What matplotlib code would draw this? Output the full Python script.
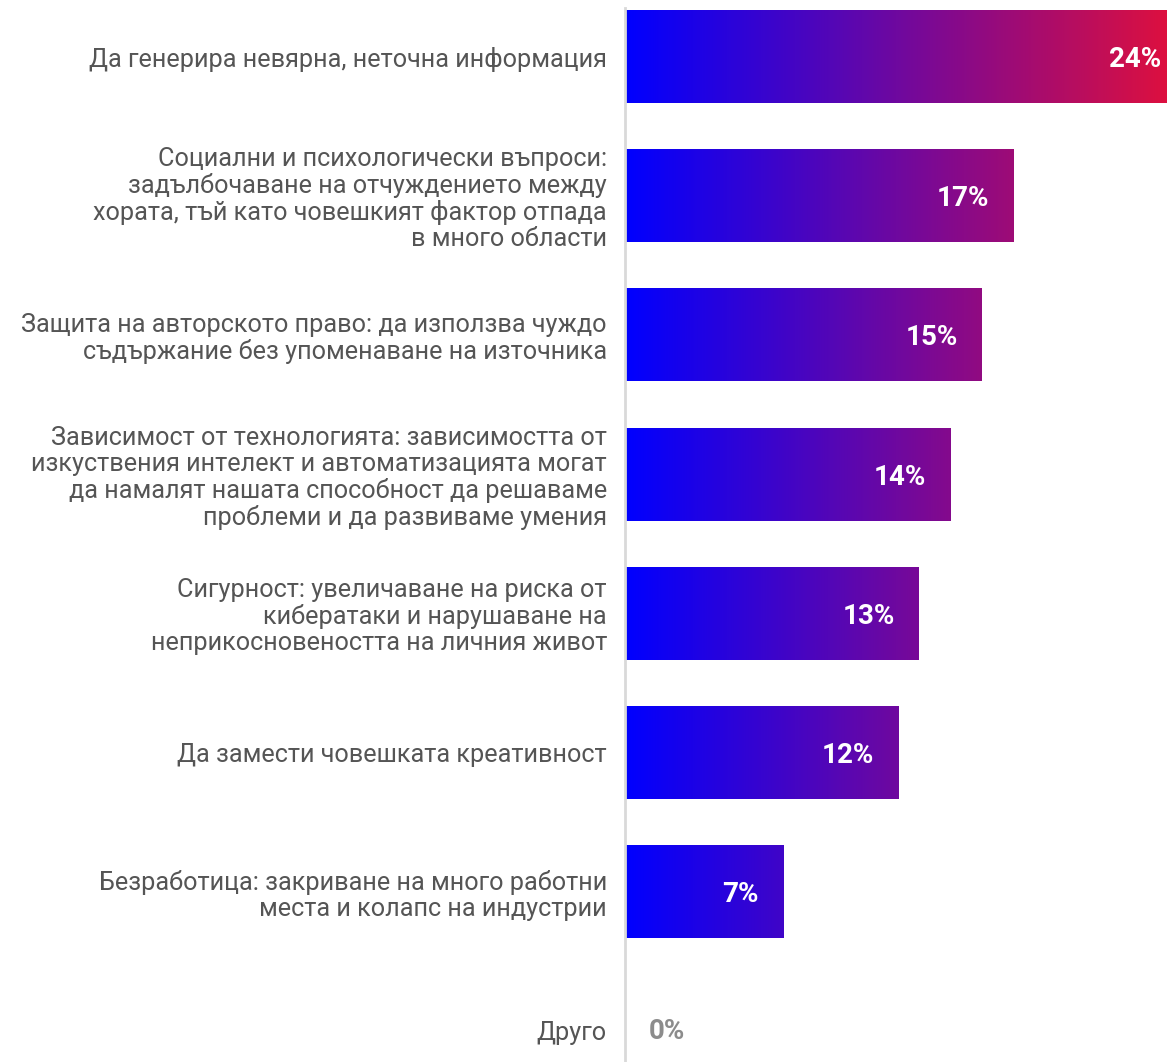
import matplotlib
matplotlib.use("Agg")
import matplotlib.pyplot as plt
import matplotlib.transforms as mtransforms
from matplotlib.colors import LinearSegmentedColormap, Normalize
import numpy as np

plt.rcParams['font.family'] = ['Roboto', 'DejaVu Sans']

categories = [
    "Да генерира невярна, неточна информация",
    "Социални и психологически въпроси:\nзадълбочаване на отчуждението между\nхората, тъй като човешкият фактор отпада\nв много области",
    "Защита на авторското право: да използва чуждо\nсъдържание без упоменаване на източника",
    "Зависимост от технологията: зависимостта от\nизкуствения интелект и автоматизацията могат\nда намалят нашата способност да решаваме\nпроблеми и да развиваме умения",
    "Сигурност: увеличаване на риска от\nкибератаки и нарушаване на\nнеприкосновеността на личния живот",
    "Да замести човешката креативност",
    "Безработица: закриване на много работни\nместа и колапс на индустрии",
    "Друго",
]
values = [24.8, 17.2, 15.8, 14.4, 13.0, 12.1, 7.0, 0.0]
value_labels = ["24%", "17%", "15%", "14%", "13%", "12%", "7%", "0%"]

W, H = 1167, 1062
fig = plt.figure(figsize=(W / 100, H / 100), dpi=100)
ax_left = 625 / W
ax = fig.add_axes([ax_left, 0, 1 - ax_left, 1])

cmap = LinearSegmentedColormap.from_list("grad", ["#0000ff", "#dc1040"])
norm = Normalize(vmin=0, vmax=24.0)

bar_h = 0.668
n = len(categories)
ys = np.arange(n)
for y, v in zip(ys, values):
    if v <= 0:
        continue
    grad = np.linspace(0, v, 512)[None, :]
    ax.imshow(grad, cmap=cmap, norm=norm, aspect='auto',
              extent=[0, v, y + bar_h / 2, y - bar_h / 2],
              interpolation='bilinear', zorder=2)

ax.set_xlim(0, 24.0)
ax.set_ylim(7.223, -0.406)

ax.set_yticks(ys)
ax.set_yticklabels(categories, fontsize=18.2, color="#555555", linespacing=1.1)
ax.tick_params(axis='y', length=0, pad=13)
ax.tick_params(axis='x', bottom=False, labelbottom=False)
for s in ['top', 'right', 'bottom']:
    ax.spines[s].set_visible(False)
ax.spines['left'].set_color('#d9d9d9')
ax.spines['left'].set_linewidth(2)
ax.spines['left'].set_bounds(7.223, -0.35)

for y, v, lab in zip(ys, values, value_labels):
    if v > 0:
        tr = mtransforms.offset_copy(ax.transData, fig=fig, x=-24, y=-3, units='dots')
        ax.text(v, y, lab, transform=tr, ha='right', va='center',
                fontsize=20, fontweight='bold', color='white', zorder=3,
                clip_on=False)
    else:
        tr = mtransforms.offset_copy(ax.transData, fig=fig, x=24, y=-1, units='dots')
        ax.text(v, y, lab, transform=tr, ha='left', va='center',
                fontsize=20, fontweight='bold', color='#8c8c8c', zorder=3)

fig.savefig("out.png", dpi=100)
